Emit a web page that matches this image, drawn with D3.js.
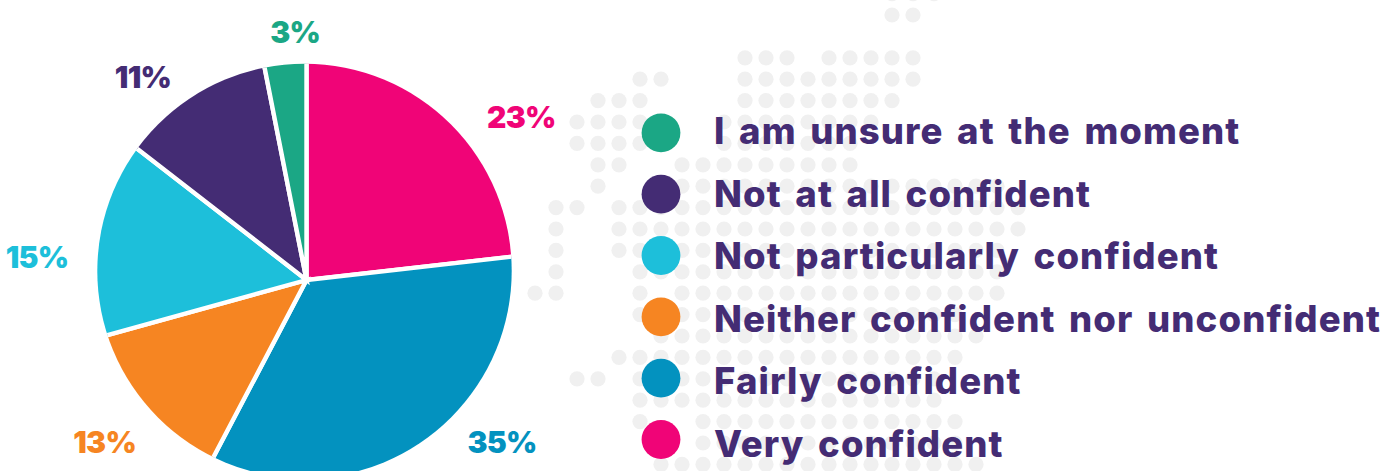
<!DOCTYPE html>
<html>
<head>
<meta charset="utf-8">
<script src="https://cdn.jsdelivr.net/npm/d3@7"></script>
<style>
  html, body { margin: 0; padding: 0; background: #fff; overflow: hidden; }
  svg { display: block; }
  text { font-family: Inter, sans-serif; }
</style>
</head>
<body>
<div id="chart"></div>
<script>
const categories = ['Very confident', 'Fairly confident', 'Neither confident nor unconfident',
  'Not particularly confident', 'Not at all confident', 'I am unsure at the moment'];
// the labels show them rounded
const values = [23.2, 34.5, 13, 14.8, 11.4, 3.1];
const legendOrder = ['I am unsure at the moment', 'Not at all confident', 'Not particularly confident',
  'Neither confident nor unconfident', 'Fairly confident', 'Very confident'];
const colours = ['#f00477', '#0392bf', '#f68522', '#1dbfda', '#442c74', '#1ba785'];

// background map dots: row index, then [first column, last column] runs
const dotRows = [
  [-1, [16, 18]],
  [0, [16, 17]],
  [2, [9, 11], [13, 17]],
  [3, [4, 5], [9, 17]],
  [4, [2, 4], [9, 16]],
  [5, [1, 5], [8, 15]],
  [6, [1, 5], [8, 14]],
  [7, [2, 3], [6, 14]],
  [8, [2, 2], [6, 21]],
  [9, [0, 1], [3, 22]],
  [10, [0, 0], [3, 22]],
  [11, [0, 0], [3, 21]],
  [12, [0, 0], [4, 21]],
  [13, [-1, 0], [4, 4], [6, 21]],
  [14, [4, 4], [6, 19]],
  [15, [5, 20]],
  [16, [3, 19]],
  [17, [1, 2], [4, 18]],
  [18, [4, 18]],
  [19, [4, 4], [7, 19]],
  [20, [7, 19]],
  [21, [5, 20]],
];

const width = 1396;
const height = 471;

const svg = d3.select('#chart')
  .append('svg')
  .attr('width', width)
  .attr('height', height);

const colour = d3.scaleOrdinal().domain(categories).range(colours);

const col = d3.scaleLinear().domain([0, 22]).range([556, 1018]);
const row = d3.scaleLinear().domain([0, 21]).range([15, 464.4]);

const dots = dotRows.flatMap(([r, ...runs]) => runs.flatMap(([a, b]) => d3.range(a, b + 1).map((c) => ({ r, c }))));

svg.append('g')
  .selectAll('circle')
  .data(dots)
  .join('circle')
  .attr('cx', (d) => col(d.c))
  .attr('cy', (d) => row(d.r))
  .attr('r', 7.6)
  .attr('fill', '#f0f0f0');

// the wedges meet a little below the middle of the disc, so they are cut by a clip circle
svg.append('clipPath')
  .attr('id', 'disc')
  .append('circle')
  .attr('cx', 304.5)
  .attr('cy', 271)
  .attr('r', 207.2);

const pie = d3.pie().sort(null).value((d) => d.value);
const slices = pie(categories.map((name, i) => ({ name, value: values[i] })));
const arc = d3.arc().innerRadius(0).outerRadius(240);
const labelArc = d3.arc().innerRadius(240).outerRadius(240);

const centre = [306.5, 280];

svg.append('g')
  .attr('clip-path', 'url(#disc)')
  .append('g')
  .attr('transform', `translate(${centre})`)
  .selectAll('path')
  .data(slices)
  .join('path')
  .attr('d', arc)
  .attr('fill', (d) => colour(d.data.name))
  .attr('stroke', '#fff')
  .attr('stroke-width', 4.4);

// label nudges from the slice centroid, same order as categories
const nudges = [[55, 27], [60, -25], [-15, 22], [-34, 34], [-37.5, 12], [12, 2]];

svg.append('g')
  .attr('transform', `translate(${centre})`)
  .selectAll('text')
  .data(slices)
  .join('text')
  .attr('transform', (d, i) => {
    const [x, y] = labelArc.centroid(d);
    return `translate(${x + nudges[i][0]},${y + nudges[i][1]})`;
  })
  .attr('text-anchor', 'middle')
  .attr('fill', (d) => colour(d.data.name))
  .style('font-size', '30px')
  .style('font-weight', 900)
  .style('letter-spacing', '-0.7px')
  .text((d) => `${Math.round(d.value)}%`);

const legendY = d3.scalePoint().domain(legendOrder).range([132.8, 439.5]);
const legendBase = d3.scalePoint().domain(legendOrder).range([144, 456.5]);

const legend = svg.append('g');

legend.selectAll('circle')
  .data(legendOrder)
  .join('circle')
  .attr('cx', 661)
  .attr('cy', (d) => legendY(d))
  .attr('r', 19.4)
  .attr('fill', (d) => colour(d));

legend.selectAll('text')
  .data(legendOrder)
  .join('text')
  .attr('x', 714)
  .attr('y', (d) => legendBase(d))
  .attr('fill', '#442c74')
  .style('font-size', '36.5px')
  .style('font-weight', 800)
  .style('letter-spacing', '1.1px')
  .style('word-spacing', '4.5px')
  .text((d) => d);
</script>
</body>
</html>
